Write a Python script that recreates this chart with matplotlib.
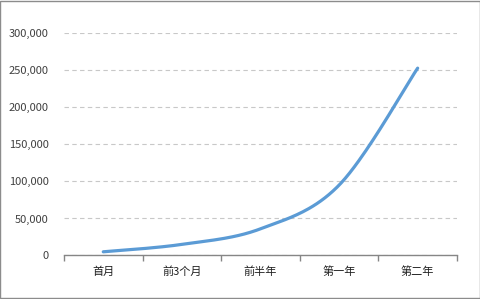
import numpy as np
import matplotlib
matplotlib.use("Agg")
import matplotlib.pyplot as plt
from matplotlib.patches import Rectangle

plt.rcParams['font.family'] = ['Noto Sans CJK SC', 'DejaVu Sans']

# Data
categories = ["首月", "前3个月", "前半年", "第一年", "第二年"]
values = [5000, 15000, 36000, 95000, 253000]
y_ticks = [0, 50000, 100000, 150000, 200000, 250000, 300000]


def smooth_curve(xs, ys, n=40):
    # Catmull-Rom style smoothing, like an Excel "smoothed line"
    xs = np.asarray(xs, float)
    ys = np.asarray(ys, float)
    px = np.concatenate([[xs[0]], xs, [xs[-1]]])
    py = np.concatenate([[ys[0]], ys, [ys[-1]]])
    out_x, out_y = [], []
    for i in range(1, len(px) - 2):
        p0, p1, p2, p3 = [np.array([px[j], py[j]]) for j in (i - 1, i, i + 1, i + 2)]
        c1 = p1 + (p2 - p0) / 6.0
        c2 = p2 - (p3 - p1) / 6.0
        t = np.linspace(0, 1, n)[:, None]
        pts = ((1 - t) ** 3) * p1 + 3 * ((1 - t) ** 2) * t * c1 + 3 * (1 - t) * t ** 2 * c2 + t ** 3 * p2
        out_x.extend(pts[:, 0])
        out_y.extend(pts[:, 1])
    return np.array(out_x), np.array(out_y)


fig = plt.figure(figsize=(4.81, 2.99), dpi=100)
ax = fig.add_axes([0.133, 0.1455, 0.817, 0.743])

x = np.arange(len(categories))
sx, sy = smooth_curve(x, values)
ax.plot(sx, sy, color="#5B9BD5", lw=2.3, solid_capstyle="round", zorder=3)

ax.set_xlim(-0.5, len(categories) - 0.5)
ax.set_ylim(0, 300000)

ax.set_yticks(y_ticks)
ax.set_yticklabels([f"{v:,}" for v in y_ticks])
ax.tick_params(axis="y", length=0, pad=11, labelsize=8, labelcolor="#404040")
ax.grid(axis="y", color="#C8C8C8", linestyle=(0, (4, 3)), lw=0.8, zorder=0)

# category boundaries carry the tick marks, labels sit in between
ax.set_xticks(np.arange(len(categories) + 1) - 0.5)
ax.set_xticklabels([])
ax.set_xticks(x, minor=True)
ax.set_xticklabels(categories, minor=True)
ax.tick_params(axis="x", which="major", length=4, color="#868686", width=1)
ax.tick_params(axis="x", which="minor", length=0, pad=8, labelsize=8, labelcolor="#202020")

for side in ("top", "right", "left"):
    ax.spines[side].set_visible(False)
ax.spines["bottom"].set_color("#868686")
ax.spines["bottom"].set_linewidth(1)

fig.patches.append(Rectangle((0.001, 0.002), 0.997, 0.995, transform=fig.transFigure,
                             fill=False, edgecolor="#8C8C8C", lw=1))

fig.savefig("out.png", dpi=100)
